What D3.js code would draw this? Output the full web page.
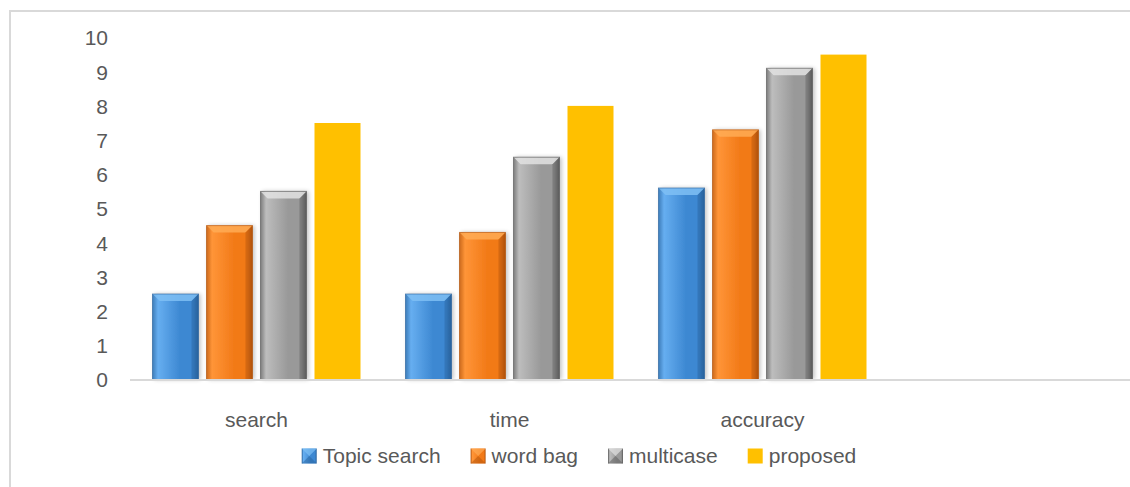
<!DOCTYPE html>
<html><head><meta charset="utf-8">
<script src="https://cdn.jsdelivr.net/npm/d3@7"></script>
<style>
html,body{margin:0;padding:0;background:#fff;}
svg{display:block;font-family:"Liberation Sans",Arial,sans-serif;}
</style></head>
<body>
<svg id="chart" width="1130" height="487"></svg>
<script>
const categories = ["search", "time", "accuracy", ""];
const seriesNames = ["Topic search", "word bag", "multicase", "proposed"];
const topicSearch = [2.5, 2.5, 5.6, null];
const wordBag = [4.5, 4.3, 7.3, null];
const multicase = [5.5, 6.5, 9.1, null];
const proposed = [7.5, 8.0, 9.5, null];
const yTicks = [0,1,2,3,4,5,6,7,8,9,10];

const seriesValues = [topicSearch, wordBag, multicase, proposed];
const colors = [
  {base:"#3d88d2", light:"#66aef0", dark:"#28619c", top:"#7fc0f5"},
  {base:"#f27a18", light:"#ff9538", dark:"#b0520c", top:"#ffab55"},
  {base:"#999999", light:"#bdbdbd", dark:"#5a5a5a", top:"#e2e2e2"},
  {base:"#ffc000", light:"#ffc000", dark:"#ffc000", top:"#ffc000", flat:true}
];

const svg = d3.select("#chart");
const defs = svg.append("defs");
colors.forEach((c,i)=>{
  const g = defs.append("linearGradient").attr("id","g"+i).attr("x1","0").attr("x2","1").attr("y1","0").attr("y2","0");
  g.append("stop").attr("offset","0").attr("stop-color",c.flat?c.base:c.dark);
  g.append("stop").attr("offset","0.12").attr("stop-color",c.light);
  g.append("stop").attr("offset","0.6").attr("stop-color",c.base);
  g.append("stop").attr("offset","0.88").attr("stop-color",c.base);
  g.append("stop").attr("offset","1").attr("stop-color",c.flat?c.base:c.dark);
});
const sh = defs.append("filter").attr("id","shadow").attr("x","-20%").attr("y","-5%").attr("width","140%").attr("height","110%");
sh.append("feGaussianBlur").attr("in","SourceAlpha").attr("stdDeviation","2").attr("result","b");
sh.append("feOffset").attr("in","b").attr("dx","2").attr("dy","0").attr("result","o");
sh.append("feComponentTransfer").attr("in","o").attr("result","o2").append("feFuncA").attr("type","linear").attr("slope","0.25");
const m = sh.append("feMerge"); m.append("feMergeNode").attr("in","o2"); m.append("feMergeNode").attr("in","SourceGraphic");

// frame
svg.append("path").attr("d","M10,487 L10,11 L1130,11").attr("fill","none").attr("stroke","#d9d9d9").attr("stroke-width",2);

const x0 = d3.scaleBand().domain(categories).range([130, 1142]).padding(0);
const x1 = d3.scaleBand().domain(seriesNames).range([22.5, 230.5]).paddingInner(8/54).paddingOuter(0);
const y = d3.scaleLinear().domain([0,10]).range([379.5, 37.5]);

const FONT = "21px";

// y axis labels
const yAxis = d3.axisLeft(y).tickValues(yTicks).tickSize(0).tickPadding(0);
const ya = svg.append("g").attr("transform","translate(108,0)").call(yAxis);
ya.select(".domain").remove();
ya.selectAll("text").attr("font-size",FONT).attr("fill","#595959").attr("font-family","'Liberation Sans',Arial,sans-serif").attr("dy","0.35em");

// bars
seriesNames.forEach((s, si) => {
  const c = colors[si];
  categories.forEach((cat, ci) => {
    const v = seriesValues[si][ci];
    if (v == null) return;
    const bx = x0(cat) + x1(s), bw = x1.bandwidth();
    const by = y(v), bh = y(0) - y(v);
    const g = svg.append("g");
    g.append("rect").attr("x",bx).attr("y",by).attr("width",bw).attr("height",bh)
      .attr("fill",`url(#g${si})`).attr("filter", c.flat?null:"url(#shadow)");
    if (!c.flat) {
      const b = 7;
      g.append("path").attr("d",`M${bx},${by} L${bx+bw},${by} L${bx+bw-b},${by+b} L${bx+b},${by+b} Z`).attr("fill",c.top).attr("opacity",0.85);
      g.append("path").attr("d",`M${bx},${by} L${bx+b},${by+b} L${bx+b},${by+bh} L${bx},${by+bh} Z`).attr("fill",c.light).attr("opacity",0.35);
      g.append("path").attr("d",`M${bx+bw},${by} L${bx+bw-b},${by+b} L${bx+bw-b},${by+bh} L${bx+bw},${by+bh} Z`).attr("fill",c.dark).attr("opacity",0.45);
      g.append("rect").attr("x",bx).attr("y",by).attr("width",bw).attr("height",bh).attr("fill","none").attr("stroke",c.dark).attr("stroke-width",1).attr("opacity",0.6);
    }
  });
});

// x axis line
svg.append("line").attr("x1",130).attr("x2",1130).attr("y1",380).attr("y2",380).attr("stroke","#d9d9d9").attr("stroke-width",2);

// category labels
const xAxis = d3.axisBottom(x0).tickSize(0).tickPadding(0);
const xa = svg.append("g").attr("transform","translate(0,420)").call(xAxis);
xa.select(".domain").remove();
xa.selectAll("text").attr("font-size",FONT).attr("fill","#595959").attr("font-family","'Liberation Sans',Arial,sans-serif").attr("dy","0.35em");

// legend
const GAP = 30;
const leg = svg.append("g");
let cx = 0;
seriesNames.forEach((s, si) => {
  const it = leg.append("g");
  it.append("rect").attr("x",0).attr("y",-7.5).attr("width",15).attr("height",15).attr("fill",`url(#g${si})`);
  if (!colors[si].flat) {
    it.append("path").attr("d","M0,-7.5 L15,-7.5 L7.5,0 Z").attr("fill",colors[si].top).attr("opacity",0.7);
    it.append("path").attr("d","M0,7.5 L15,7.5 L7.5,0 Z").attr("fill",colors[si].dark).attr("opacity",0.5);
  }
  const t = it.append("text").attr("x",21).attr("y",0).attr("dy","0.35em").attr("font-size",FONT).attr("fill","#595959").text(s);
  const w = 21 + t.node().getComputedTextLength();
  it.attr("transform",`translate(${cx},456)`);
  cx += w + GAP;
});
const total = cx - GAP;
leg.attr("transform",`translate(${579 - total/2},0)`);
</script>
</body></html>
